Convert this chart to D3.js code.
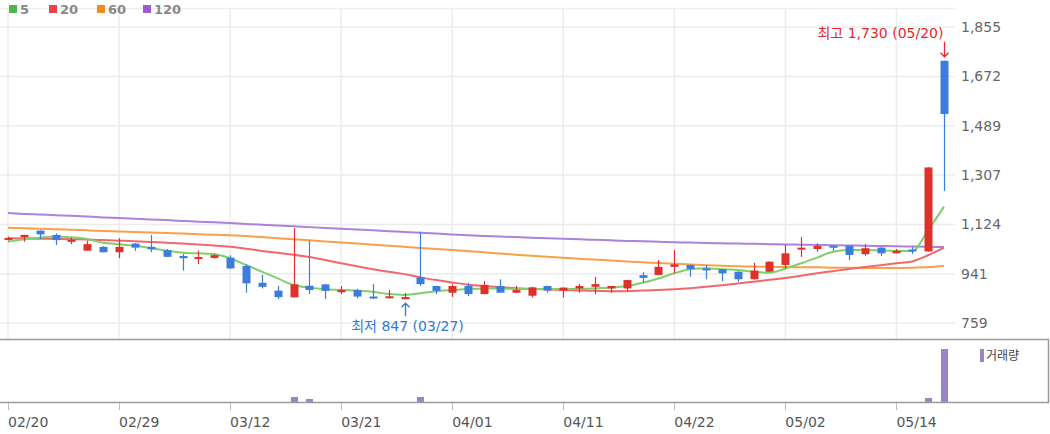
<!DOCTYPE html>
<html>
<head>
<meta charset="utf-8">
<script src="https://cdn.jsdelivr.net/npm/d3@7"></script>
<style>
body{margin:0;background:#fff}
svg{display:block}
</style>
</head>
<body>
<script>
var dates = ["02/20","02/21","02/22","02/23","02/26","02/27","02/28","02/29",
  "03/04","03/05","03/06","03/07","03/08","03/11","03/12","03/13","03/14","03/15",
  "03/18","03/19","03/20","03/21","03/22","03/25","03/26","03/27","03/28","03/29",
  "04/01","04/02","04/03","04/04","04/05","04/08","04/09","04/11","04/12","04/15",
  "04/16","04/17","04/18","04/19","04/22","04/23","04/24","04/25","04/26","04/29",
  "04/30","05/02","05/03","05/07","05/08","05/09","05/10","05/13","05/14","05/16",
  "05/17","05/20"]

var opens  = [1070,1076,1101,1085,1064,1027,1041,1021,1053,1041,1029,1007,999,1000,1001,970,908,879,854,897,
              902,873,881,857,851,847,928,896,871,896,866,896,871,860,896,879,887,893,887,887,
              936,937,967,974,961,958,949,921,949,974,1033,1033,1045,1045,1014,1038,1017,1031,1024,1730]
var highs  = [1079,1086,1102,1091,1076,1064,1044,1073,1055,1085,1033,1014,1027,1014,1010,976,937,896,1110,1064,
              903,896,886,903,881,870,1097,897,902,908,914,921,896,893,897,891,903,930,897,919,
              947,992,1029,975,974,959,950,982,987,1048,1078,1054,1045,1046,1051,1040,1033,1041,1335,1730]
var lows   = [1064,1060,1070,1048,1051,1027,1021,999,1026,1021,1003,953,977,997,960,871,887,848,854,866,
              848,866,850,848,850,847,897,866,856,859,866,871,870,854,871,854,871,866,871,877,
              908,935,943,930,921,914,912,920,948,961,1004,1023,1026,992,1008,1007,1016,1014,1023,1248]
var closes = [1074,1085,1087,1066,1067,1051,1021,1041,1038,1032,1004,999,1003,1010,961,906,893,855,902,881,
              878,881,857,851,858,855,903,878,896,866,900,871,881,891,879,890,896,903,896,918,
              926,967,976,959,954,943,921,953,986,1017,1038,1044,1038,1011,1036,1017,1026,1024,1335,1533]
var volumes = [22000,31000,18000,26000,12000,35000,20000,32000,17000,29000,23000,38000,11000,16000,34000,40000,28000,37000,530000,270000,
               39000,14000,25000,19000,21000,36000,530000,32000,15000,27000,24000,18000,9000,16000,13000,20000,11000,26000,8000,17000,
               23000,37000,39000,19000,21000,16000,28000,34000,31000,36000,39000,22000,14000,25000,18000,20000,12000,17000,370000,5300000]

var ma5   = [1060,1069,1075,1079,1076,1070,1056,1051,1045,1036,1027,1019,1017,1014,999,974,949,924,900,890,
             884,881,879,875,866,863,869,877,881,885,887,887,885,885,885,885,885,887,890,896,
             908,924,943,958,962,958,955,949,945,961,980,1001,1023,1029,1029,1027,1026,1026,1103,1190]
var ma20  = [1073,1072,1071,1070,1069,1068,1066,1064,1062,1059,1056,1053,1050,1046,1041,1034,1026,1019,1012,1003,
             992,980,969,958,949,940,928,918,909,901,896,892,888,885,883,881,879,878,877,877,
             879,881,884,888,893,899,905,912,919,926,934,943,951,959,966,973,980,987,1010,1038]
var ma60  = [1112,1110,1108,1106,1104,1102,1100,1098,1096,1094,1092,1090,1088,1086,1084,1081,1077,1073,1069,1065,
             1061,1057,1053,1049,1045,1041,1037,1033,1029,1025,1021,1016,1012,1008,1004,1001,997,994,990,987,
             984,981,978,976,973,971,969,968,967,966,965,965,964,964,963,963,963,964,966,970]
var ma120 = [1166,1163,1161,1158,1156,1153,1150,1148,1145,1142,1140,1137,1134,1132,1129,1126,1123,1120,1117,1114,
             1111,1108,1105,1102,1099,1096,1093,1090,1087,1084,1081,1079,1077,1075,1073,1071,1069,1067,1065,1063,
             1062,1060,1058,1057,1055,1054,1053,1052,1051,1050,1049,1048,1047,1046,1045,1044,1043,1042,1041,1040]

var xTicks = ["02/20","02/29","03/12","03/21","04/01","04/11","04/22","05/02","05/14"]
var yTicks = [759,941,1124,1307,1489,1672,1855]

var maNames = ["5","20","60","120"]
var maColors = ["#4cb748","#e8434b","#f7891e","#9c5ccf"]
var maLineColors = ["#7fcf6a","#f0686c","#f9a04a","#ad82dc"]

var upColor = "#e0302a", downColor = "#3b7ddd"

var W = 1050, H = 434

var svg = d3.select("body").append("svg")
  .attr("width", W).attr("height", H)

var x = d3.scalePoint().domain(dates).range([8, 944])
var y = d3.scaleLinear().domain([759, 1855]).range([323, 27])
var yv = d3.scaleLinear().domain([0, d3.max(volumes) * 1.19]).range([402, 339])

// grid
var grid = svg.append("g")
grid.append("line").attr("x1", 0).attr("x2", 955).attr("y1", 8.5).attr("y2", 8.5)
  .attr("stroke", "#eeeeee").attr("stroke-width", 1.5)
grid.selectAll(".vg").data(xTicks).enter().append("line")
  .attr("x1", function(d){ return x(d) }).attr("x2", function(d){ return x(d) })
  .attr("y1", 8).attr("y2", 339)
  .attr("stroke", "#ececec").attr("stroke-width", 1.5)
grid.selectAll(".hg").data(yTicks).enter().append("line")
  .attr("x1", 0).attr("x2", 955)
  .attr("y1", function(d){ return y(d) }).attr("y2", function(d){ return y(d) })
  .attr("stroke", "#ececec").attr("stroke-width", 1.5)

// y axis labels
svg.selectAll(".yl").data(yTicks).enter().append("text")
  .attr("x", 961).attr("y", function(d){ return y(d) }).attr("dy", "0.36em")
  .attr("font-family", "DejaVu Sans").attr("font-size", 14)
  .attr("fill", "#666").text(d3.format(","))

// moving averages
var mas = [ma120, ma60, ma20, ma5]
var maCol = [maLineColors[3], maLineColors[2], maLineColors[1], maLineColors[0]]
var line = d3.line()
  .x(function(d, i){ return x(dates[i]) })
  .y(function(d){ return y(d) })
  .curve(d3.curveMonotoneX)
mas.forEach(function(m, k){
  svg.append("path").attr("d", line(m))
    .attr("fill", "none").attr("stroke", maCol[k]).attr("stroke-width", 2)
})

// candles
var bw = 8
var candles = svg.selectAll(".c").data(dates).enter().append("g")
candles.append("line")
  .attr("x1", function(d){ return Math.round(x(d)) + 0.5 })
  .attr("x2", function(d){ return Math.round(x(d)) + 0.5 })
  .attr("y1", function(d, i){ return y(highs[i]) })
  .attr("y2", function(d, i){ return y(lows[i]) })
  .attr("stroke", function(d, i){ return closes[i] >= opens[i] ? upColor : downColor })
  .attr("stroke-width", 1.2)
candles.append("rect")
  .attr("x", function(d){ return Math.round(x(d)) + 0.5 - bw / 2 })
  .attr("width", bw)
  .attr("y", function(d, i){ return y(Math.max(opens[i], closes[i])) })
  .attr("height", function(d, i){ return Math.max(2, Math.abs(y(opens[i]) - y(closes[i]))) })
  .attr("fill", function(d, i){ return closes[i] >= opens[i] ? upColor : downColor })

// high / low annotation
var annFont = "DejaVu Sans, Noto Sans CJK KR"
var hiIdx = d3.maxIndex(highs), loIdx = d3.minIndex(lows)
var hx = Math.round(x(dates[hiIdx])) + 0.5, hy = y(highs[hiIdx])
svg.append("text").attr("x", hx - 1).attr("y", hy - 23)
  .attr("text-anchor", "end").attr("font-family", annFont).attr("font-size", 14)
  .attr("fill", "#e8262c")
  .text("최고 " + d3.format(",")(highs[hiIdx]) + " (" + dates[hiIdx] + ")")
svg.append("path")
  .attr("d", "M" + hx + "," + (hy - 19) + "V" + (hy - 4) + "M" + (hx - 4) + "," + (hy - 8) + "L" + hx + "," + (hy - 4) + "L" + (hx + 4) + "," + (hy - 8))
  .attr("fill", "none").attr("stroke", "#e8262c").attr("stroke-width", 1.3)

var lx = Math.round(x(dates[loIdx])) + 0.5, ly = y(lows[loIdx])
svg.append("text").attr("x", lx + 2).attr("y", ly + 32)
  .attr("text-anchor", "middle").attr("font-family", annFont).attr("font-size", 14)
  .attr("fill", "#2f7ad8")
  .text("최저 " + d3.format(",")(lows[loIdx]) + " (" + dates[loIdx] + ")")
svg.append("path")
  .attr("d", "M" + lx + "," + (ly + 17) + "V" + (ly + 4) + "M" + (lx - 4) + "," + (ly + 8) + "L" + lx + "," + (ly + 4) + "L" + (lx + 4) + "," + (ly + 8))
  .attr("fill", "none").attr("stroke", "#2f7ad8").attr("stroke-width", 1.3)

// volume panel
svg.selectAll(".v").data(volumes).enter().append("rect")
  .attr("x", function(d, i){ return Math.round(x(dates[i])) - 3 })
  .attr("width", 7)
  .attr("y", function(d){ return Math.round(yv(d)) })
  .attr("height", function(d){ return 402 - Math.round(yv(d)) })
  .attr("fill", "#9a86c6")

svg.append("line").attr("x1", 0).attr("x2", 1049).attr("y1", 339.5).attr("y2", 339.5)
  .attr("stroke", "#9a9a9a").attr("stroke-width", 1.5)
svg.append("line").attr("x1", 0).attr("x2", 1049).attr("y1", 402.5).attr("y2", 402.5)
  .attr("stroke", "#9a9a9a").attr("stroke-width", 1.5)
svg.append("line").attr("x1", 1048.5).attr("x2", 1048.5).attr("y1", 339).attr("y2", 403)
  .attr("stroke", "#9a9a9a").attr("stroke-width", 1.5)

svg.append("rect").attr("x", 980).attr("y", 349).attr("width", 4).attr("height", 13).attr("fill", "#9a86c6")
svg.append("text").attr("x", 986).attr("y", 360)
  .attr("font-family", "Noto Sans CJK KR").attr("font-size", 12).attr("fill", "#444")
  .text("거래량")

// x axis
var xa = svg.append("g")
xa.selectAll("line").data(xTicks).enter().append("line")
  .attr("x1", function(d){ return Math.round(x(d)) + 0.5 }).attr("x2", function(d){ return Math.round(x(d)) + 0.5 })
  .attr("y1", 403).attr("y2", 410).attr("stroke", "#bbb")
xa.selectAll("text").data(xTicks).enter().append("text")
  .attr("x", function(d){ return x(d) }).attr("y", 427)
  .attr("font-family", "DejaVu Sans").attr("font-size", 14).attr("fill", "#555")
  .text(function(d){ return d })

// legend
var lg = svg.append("g")
var lgX = [9, 49, 97, 143]
maNames.forEach(function(n, k){
  lg.append("rect").attr("x", lgX[k]).attr("y", 5).attr("width", 8).attr("height", 8).attr("fill", maColors[k])
  lg.append("text").attr("x", lgX[k] + 11).attr("y", 14)
    .attr("font-family", "DejaVu Sans").attr("font-weight", "bold").attr("font-size", 13)
    .attr("fill", "#888").text(n)
})
</script>
</body>
</html>
